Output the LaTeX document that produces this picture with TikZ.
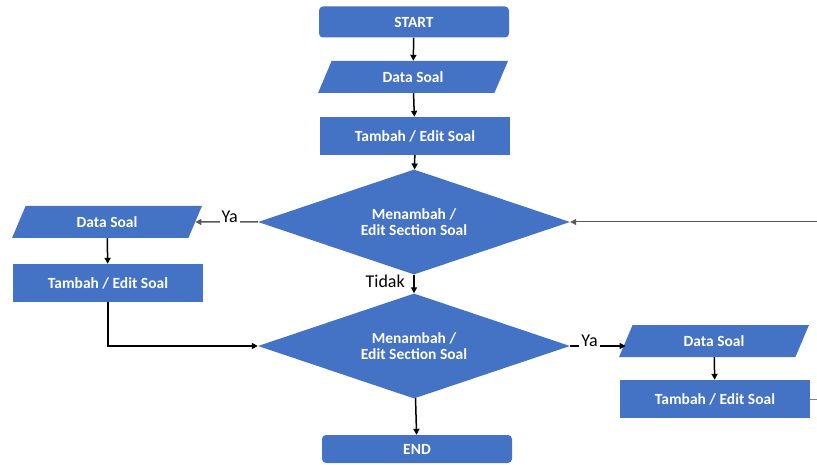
\documentclass[tikz,border=0pt]{standalone}
\usepackage{fontspec}
\setmainfont{Carlito}
\usetikzlibrary{calc, positioning, shapes.geometric, arrows.meta}
\definecolor{boxblue}{HTML}{4472C4}
\tikzset{
  term/.style={rectangle, rounded corners=4pt, fill=boxblue, text=white, font=\bfseries\fontsize{15.5}{16}\selectfont, minimum width=190pt, minimum height=31pt},
  io/.style={trapezium, trapezium left angle=74, trapezium right angle=106, trapezium stretches=true, fill=boxblue, text=white, font=\bfseries\fontsize{15.5}{16}\selectfont, minimum width=190pt, minimum height=32pt, inner xsep=0pt},
  proc/.style={rectangle, fill=boxblue, text=white, font=\bfseries\fontsize{15.5}{16}\selectfont, minimum width=190pt, minimum height=38pt},
  decide/.style={diamond, aspect=2.97, fill=boxblue, text=white, font=\bfseries\fontsize{15.5}{16}\selectfont, align=center, minimum width=312pt, minimum height=105pt, inner sep=0pt},
  lbl/.style={fill=white, text=black, font=\fontsize{18}{20}\selectfont, inner sep=2pt},
  arr/.style={-{Triangle[length=6pt,width=6pt]}, line width=1.5pt}
}
\begin{document}
\begin{tikzpicture}[x=1pt, y=-1pt]
      \useasboundingbox (0,0) rectangle (817,465);
      % nodes %
      \node[term] (start) at (414,22) {START};
      \node[io] (data) at (413,77) {Data Soal};
      \node[proc] (edit) at (415,136) {Tambah / Edit Soal};
      \node[decide] (cek1) at (414,222) {Menambah /\\Edit Section Soal};
      \node[io] (dataL) at (107,222) {Data Soal};
      \node[proc] (editL) at (108,283) {Tambah / Edit Soal};
      \node[decide] (cek2) at (414,346) {Menambah /\\Edit Section Soal};
      \node[io] (dataR) at (714,341) {Data Soal};
      \node[proc] (editR) at (715,399) {Tambah / Edit Soal};
      \node[term, minimum height=28pt] (end) at (417,449) {END};
      \coordinate (masuk) at (817,222);
      \coordinate (keluar) at (817,399);

      % edges %
      \draw[arr] (start) -- (data);
      \draw[arr] (data) -- (edit);
      \draw[arr] (edit) -- (cek1);
      \draw[arr, line width=1pt, gray!70!black] (masuk) -- (cek1.east);
      \draw[arr, gray!70!black] (cek1.west) -- node[lbl, above=-3pt, pos=0.45] {Ya} (dataL.east);
      \draw[arr] (dataL) -- (editL);
      \draw[arr] (editL.south) |- (cek2.west);
      \draw[arr] (cek1.south) -- (cek2.north);
      \node[lbl, anchor=east] (tidak) at (407,281) {Tidak};
      \draw[arr] (cek2.east) -- node[lbl, above=-3pt, pos=0.35] {Ya} (cek2.east -| dataR.west);
      \draw[arr] (dataR) -- (editR);
      \draw[arr] (cek2) -- (end);
      \draw[line width=1pt, gray] (editR.east) -- (keluar);
\end{tikzpicture}
\end{document}
